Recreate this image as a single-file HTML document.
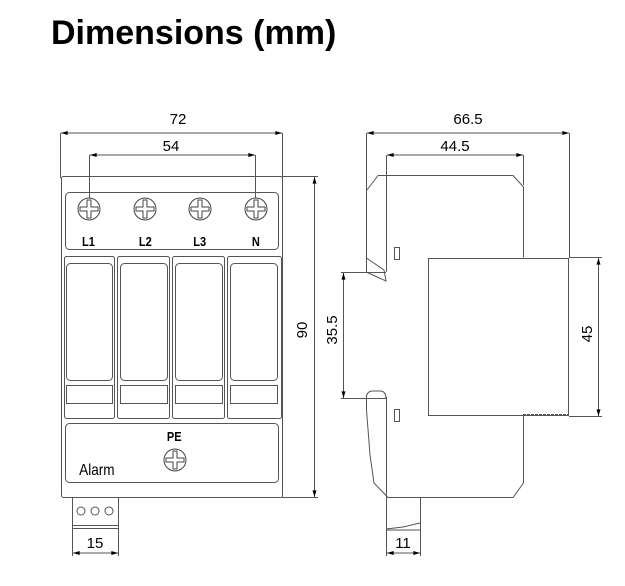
<!DOCTYPE html>
<html><head><style>
body{margin:0;background:#fff;width:625px;height:581px;overflow:hidden}
svg text{font-family:"Liberation Sans",Arial,sans-serif}
</style></head><body>
<svg width="625" height="581" viewBox="0 0 625 581" xmlns="http://www.w3.org/2000/svg">
<defs>
<marker id="a" viewBox="0 0 10 6" refX="10" refY="3" markerWidth="8" markerHeight="4" orient="auto-start-reverse"><path d="M0,0L10,3L0,6z" fill="#000"/></marker>
<g id="scr"><circle r="11" fill="#fff" stroke="#444" stroke-width="1"/><path d="M-2,-9h4v7h7v4h-7v7h-4v-7h-7v-4h7z" fill="none" stroke="#444" stroke-width="1"/></g>
</defs>
<text x="51" y="44" font-size="34" font-weight="bold">Dimensions (mm)</text>
<g stroke="#555" stroke-width="1" fill="none">
<line x1="60.5" y1="133" x2="60.5" y2="178"/><line x1="282.5" y1="133" x2="282.5" y2="178"/>
<line x1="61" y1="133" x2="282" y2="133" marker-start="url(#a)" marker-end="url(#a)"/>
<line x1="89.5" y1="155" x2="89.5" y2="210"/><line x1="255.5" y1="155" x2="255.5" y2="210"/>
<line x1="90" y1="155" x2="255" y2="155" marker-start="url(#a)" marker-end="url(#a)"/>
<line x1="282" y1="176.5" x2="318" y2="176.5"/><line x1="282" y1="497.5" x2="318" y2="497.5"/>
<line x1="314.5" y1="177" x2="314.5" y2="497" marker-start="url(#a)" marker-end="url(#a)"/>
<rect x="61.5" y="176.5" width="221" height="321" rx="2"/>
<rect x="65.5" y="192.5" width="213" height="57" rx="4"/>
<rect x="64.5" y="256.5" width="50" height="162" rx="2"/>
<rect x="117.5" y="256.5" width="52" height="162" rx="2"/>
<rect x="172.5" y="256.5" width="52" height="162" rx="2"/>
<rect x="227.5" y="256.5" width="54" height="162" rx="2"/>
<rect x="66.5" y="263.5" width="46" height="117" rx="4"/>
<rect x="120.5" y="263.5" width="47" height="117" rx="4"/>
<rect x="175.5" y="263.5" width="47" height="117" rx="4"/>
<rect x="230.5" y="263.5" width="47" height="117" rx="4"/>
<rect x="66.5" y="385.5" width="46" height="18"/>
<rect x="120.5" y="385.5" width="47" height="18"/>
<rect x="175.5" y="385.5" width="47" height="18"/>
<rect x="230.5" y="385.5" width="47" height="18"/>
<rect x="65.5" y="423.5" width="213" height="59" rx="4"/>
<rect x="72.5" y="497.5" width="46" height="31"/>
<line x1="72" y1="525.5" x2="119" y2="525.5"/>
<line x1="72.5" y1="528" x2="72.5" y2="556"/><line x1="118.5" y1="528" x2="118.5" y2="556"/>
<line x1="73" y1="553" x2="118" y2="553" marker-start="url(#a)" marker-end="url(#a)"/>
<line x1="366.5" y1="133" x2="366.5" y2="180"/><line x1="569.5" y1="133" x2="569.5" y2="258"/>
<line x1="367" y1="133" x2="569" y2="133" marker-start="url(#a)" marker-end="url(#a)"/>
<line x1="386.5" y1="155" x2="386.5" y2="176"/><line x1="523.5" y1="155" x2="523.5" y2="185"/>
<line x1="387" y1="155" x2="523" y2="155" marker-start="url(#a)" marker-end="url(#a)"/>
<line x1="569" y1="257.5" x2="602" y2="257.5"/><line x1="569" y1="416.5" x2="602" y2="416.5"/>
<line x1="598.5" y1="258" x2="598.5" y2="416" marker-start="url(#a)" marker-end="url(#a)"/>
<line x1="341" y1="272.5" x2="386" y2="272.5"/><line x1="341" y1="398.5" x2="386" y2="398.5"/>
<line x1="343.5" y1="273" x2="343.5" y2="398" marker-start="url(#a)" marker-end="url(#a)"/>
<path d="M378,175.5H513L523.5,187V257.5"/>
<path d="M366.5,178V272M366.5,398V410L370,455L374,483L388,497.5H513L523.5,483V415"/>
<path d="M386.5,175.5V272M386.5,397V497"/>
<path d="M378,175.5L367,190M366.5,258L384,270L386,281L366,272"/>
<path d="M366.5,398Q366,392 372,391H381Q386,392 386,398"/>
<rect x="428.5" y="258.5" width="140" height="157"/>
<path d="M523,258.5H568M523,414.5H568" stroke-dasharray="3,1"/>
<rect x="394.5" y="247.5" width="5" height="12"/>
<rect x="394.5" y="409.5" width="5" height="12"/>
<path d="M386.5,497V530H420.5V497M386.5,530V556M420.5,530V556M386,529L403,527L420,523"/>
<line x1="387" y1="553" x2="420" y2="553" marker-start="url(#a)" marker-end="url(#a)"/>
</g>
<use href="#scr" x="89" y="209"/><use href="#scr" x="145" y="209"/><use href="#scr" x="200" y="209"/><use href="#scr" x="256" y="209"/>
<use href="#scr" x="175" y="460"/>
<g fill="#fff" stroke="#555"><circle cx="81" cy="511" r="4"/><circle cx="95" cy="511" r="4"/><circle cx="109" cy="511" r="4"/></g>
<g font-size="13" font-weight="bold" text-anchor="middle" transform="scale(0.85,1)">
<text x="104" y="246">L1</text><text x="171" y="246">L2</text><text x="235" y="246">L3</text><text x="301" y="246">N</text>
<text x="205" y="441">PE</text>
</g>
<text x="79" y="475" font-size="16" transform="translate(12,0) scale(0.85,1)">Alarm</text>
<g font-size="15" text-anchor="middle">
<text x="178" y="124">72</text><text x="171" y="151">54</text>
<text x="468" y="124">66.5</text><text x="455" y="151">44.5</text>
<text x="95" y="548">15</text><text x="403" y="548">11</text>
<text transform="translate(307,330) rotate(-90)">90</text>
<text transform="translate(337,330) rotate(-90)">35.5</text>
<text transform="translate(592,334) rotate(-90)">45</text>
</g>
</svg>
</body></html>
